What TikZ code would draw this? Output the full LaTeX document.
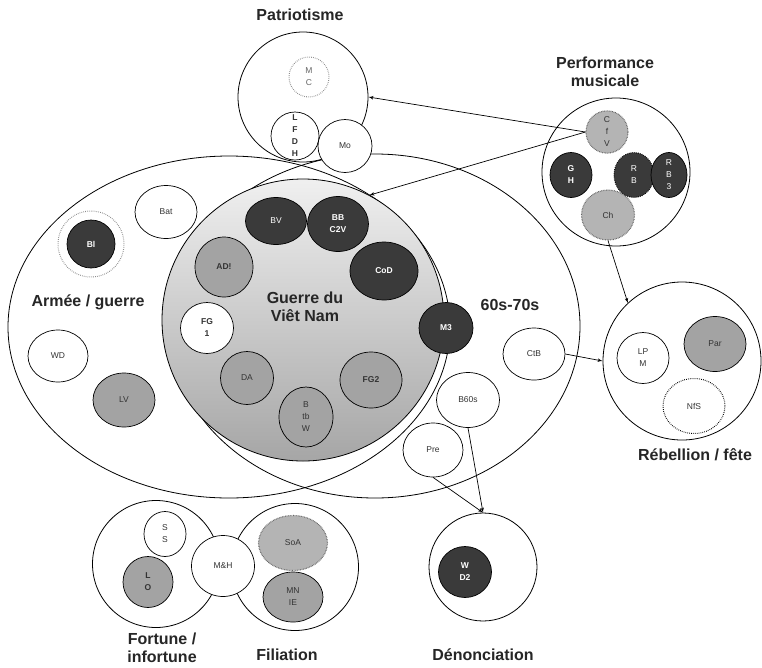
\documentclass[tikz,border=0pt]{standalone}
\usepackage{fontspec}
\setmainfont{Liberation Sans}
\usetikzlibrary{arrows,shapes.geometric}

\begin{document}
\begin{tikzpicture}[>=latex', x=1pt, y=-1pt]

\definecolor{filmdark}{RGB}{58, 58, 58}
\definecolor{filmgrey}{RGB}{163, 163, 163}
\definecolor{fuzzgrey}{RGB}{180, 180, 180}

% Canvas
\useasboundingbox[fill=white] (0,0) rectangle (762,667);

\tikzset{
    film/.style={
        ellipse, draw, line width=0.7pt, fill=white, inner sep=0pt,
        text=black!80, align=center, font=\fontsize{8.5}{12}\selectfont
    },
    sz/.style 2 args={minimum width=#1pt, minimum height=#2pt},
    dark film/.style={film, fill=filmdark, text=white},
    grey film/.style={film, fill=filmgrey},
    fuzzy film/.style={film, fill=fuzzgrey, draw=black!60, dash pattern=on 0.7pt off 0.9pt, line width=1.1pt},
    heavy/.style={font=\fontsize{8.5}{12}\selectfont\bfseries},
    theme/.style={ellipse, draw, line width=0.8pt, inner sep=0pt},
    title/.style={font=\fontsize{16}{18}\selectfont\bfseries, align=center, text=black!85},
    link/.style={->, line width=0.7pt}
}

% THEMES (big outlines)
\node[theme, sz={442}{342}] (army) at (229,327) {};
\node[theme, sz={410}{344}] (sixties) at (375,326) {};
\node[theme, circle, minimum size=282pt, top color=gray!12, bottom color=gray!70] (vietnam) at (303,320) {};
\node[theme, circle, minimum size=130pt] (patrio) at (303,97) {};
\node[theme, circle, minimum size=148pt] (perform) at (616,172) {};
\node[theme, circle, minimum size=158pt] (rebel) at (682,361) {};
\node[theme, circle, minimum size=108pt] (denon) at (483,567) {};
\node[theme, circle, minimum size=127pt] (fortune) at (156,564) {};
\node[theme, circle, minimum size=127pt] (filia) at (295,567) {};

% Patriotisme
\node[film, sz={40}{40}, draw=black!45, dash pattern=on 0.7pt off 1.2pt, line width=1pt, text=black!60] (MC) at (309,77) {M\\C};
\node[film, heavy, circle, minimum size=48pt] (LFDH) at (295,136) {L\\F\\D\\H};
\node[film, sz={54}{53}] (Mo) at (345,146) {Mo};

% Performance musicale
\node[fuzzy film, sz={42}{42}] (CfV) at (607,132) {C\\f\\V};
\node[dark film, heavy, sz={42}{45}] (GH) at (571,175) {G\\H};
\node[dark film, sz={40}{45}, dash pattern=on 0.7pt off 1.2pt, line width=1pt] (RB) at (634,175) {R\\B};
\node[dark film, sz={36}{45}] (RB3) at (669,175) {R\\B\\3};
\node[fuzzy film, sz={53}{50}] (Ch) at (608,215) {Ch};

% Armee / guerre
\node[film, sz={62}{53}] (Bat) at (166,212) {Bat};
\node[dark film, heavy, sz={48}{48}] (Bl) at (91,244) {Bl};
\draw[black!45, dash pattern=on 0.7pt off 1.2pt, line width=1pt] (Bl) circle (33pt);
\node[film, sz={60}{52}] (WD) at (58,356) {WD};
\node[grey film, sz={62}{54}] (LV) at (124,400) {LV};

% Guerre du Viet Nam
\node[dark film, sz={61}{47}] (BV) at (276,221) {BV};
\node[dark film, heavy, sz={61}{55}] (BBC) at (338,224) {BB\\C2V};
\node[dark film, heavy, sz={68}{58}] (CoD) at (384,271) {CoD};
\node[grey film, heavy, sz={58}{60}] (AD) at (224,267) {AD!};
\node[film, heavy, sz={53}{51}] (FG1) at (207,328) {FG\\1};
\node[grey film, sz={53}{53}] (DA) at (247,378) {DA};
\node[grey film, sz={54}{60}] (BtbW) at (306,417) {B\\tb\\W};
\node[grey film, heavy, sz={62}{56}] (FG2) at (371,380) {FG2};
\node[dark film, heavy, sz={54}{51}] (M3) at (446,328) {M3};

% 60s-70s
\node[film, sz={62}{52}] (CtB) at (534,354) {CtB};
\node[film, sz={63}{55}] (B60s) at (468,400) {B60s};
\node[film, sz={60}{54}] (Pre) at (433,450) {Pre};

% Rebellion / fete
\node[film, sz={52}{51}] (LPM) at (643,358) {LP\\M};
\node[grey film, sz={62}{55}] (Par) at (715,344) {Par};
\node[film, sz={62}{55}, dash pattern=on 0.7pt off 1.2pt, line width=1pt] (NfS) at (694,406) {NfS};

% Denonciation
\node[dark film, heavy, sz={53}{51}] (WD2) at (465,572) {W\\D2};

% Fortune / Filiation
\node[film, sz={42}{45}] (SS) at (165,534) {S\\S};
\node[grey film, heavy, sz={50}{51}] (LO) at (148,582) {L\\O};
\node[fuzzy film, sz={69}{55}] (SoA) at (293,543) {SoA};
\node[grey film, sz={60}{50}] (MNIE) at (293,597) {MN\\IE};
\node[film, sz={63}{61}] (MH) at (223,566) {M\&H};

% Titles
\node[title] (patrioT) at (300,15) {Patriotisme};
\node[title] (performT) at (605,72) {Performance\\musicale};
\node[title] (armyT) at (88,302) {Armée / guerre};
\node[title] (vietnamT) at (305,307) {Guerre du\\Viêt Nam};
\node[title] (sixtiesT) at (510,305) {60s-70s};
\node[title] (rebelT) at (695,455) {Rébellion / fête};
\node[title] (fortuneT) at (162,648) {Fortune /\\infortune};
\node[title] (filiaT) at (287,655) {Filiation};
\node[title] (denonT) at (483,655) {Dénonciation};

% Links
\draw[link] (CfV.west) -- (patrio.east);
\draw[link] (CfV.west) -- (vietnam.62);
\draw[link] (Ch.south) -- (rebel.133);
\draw[link] (CtB.east) -- (rebel.west);
\draw[link] (B60s.south) -- (denon.north);
\draw[link] (Pre.south) -- (denon.north);

\end{tikzpicture}
\end{document}
